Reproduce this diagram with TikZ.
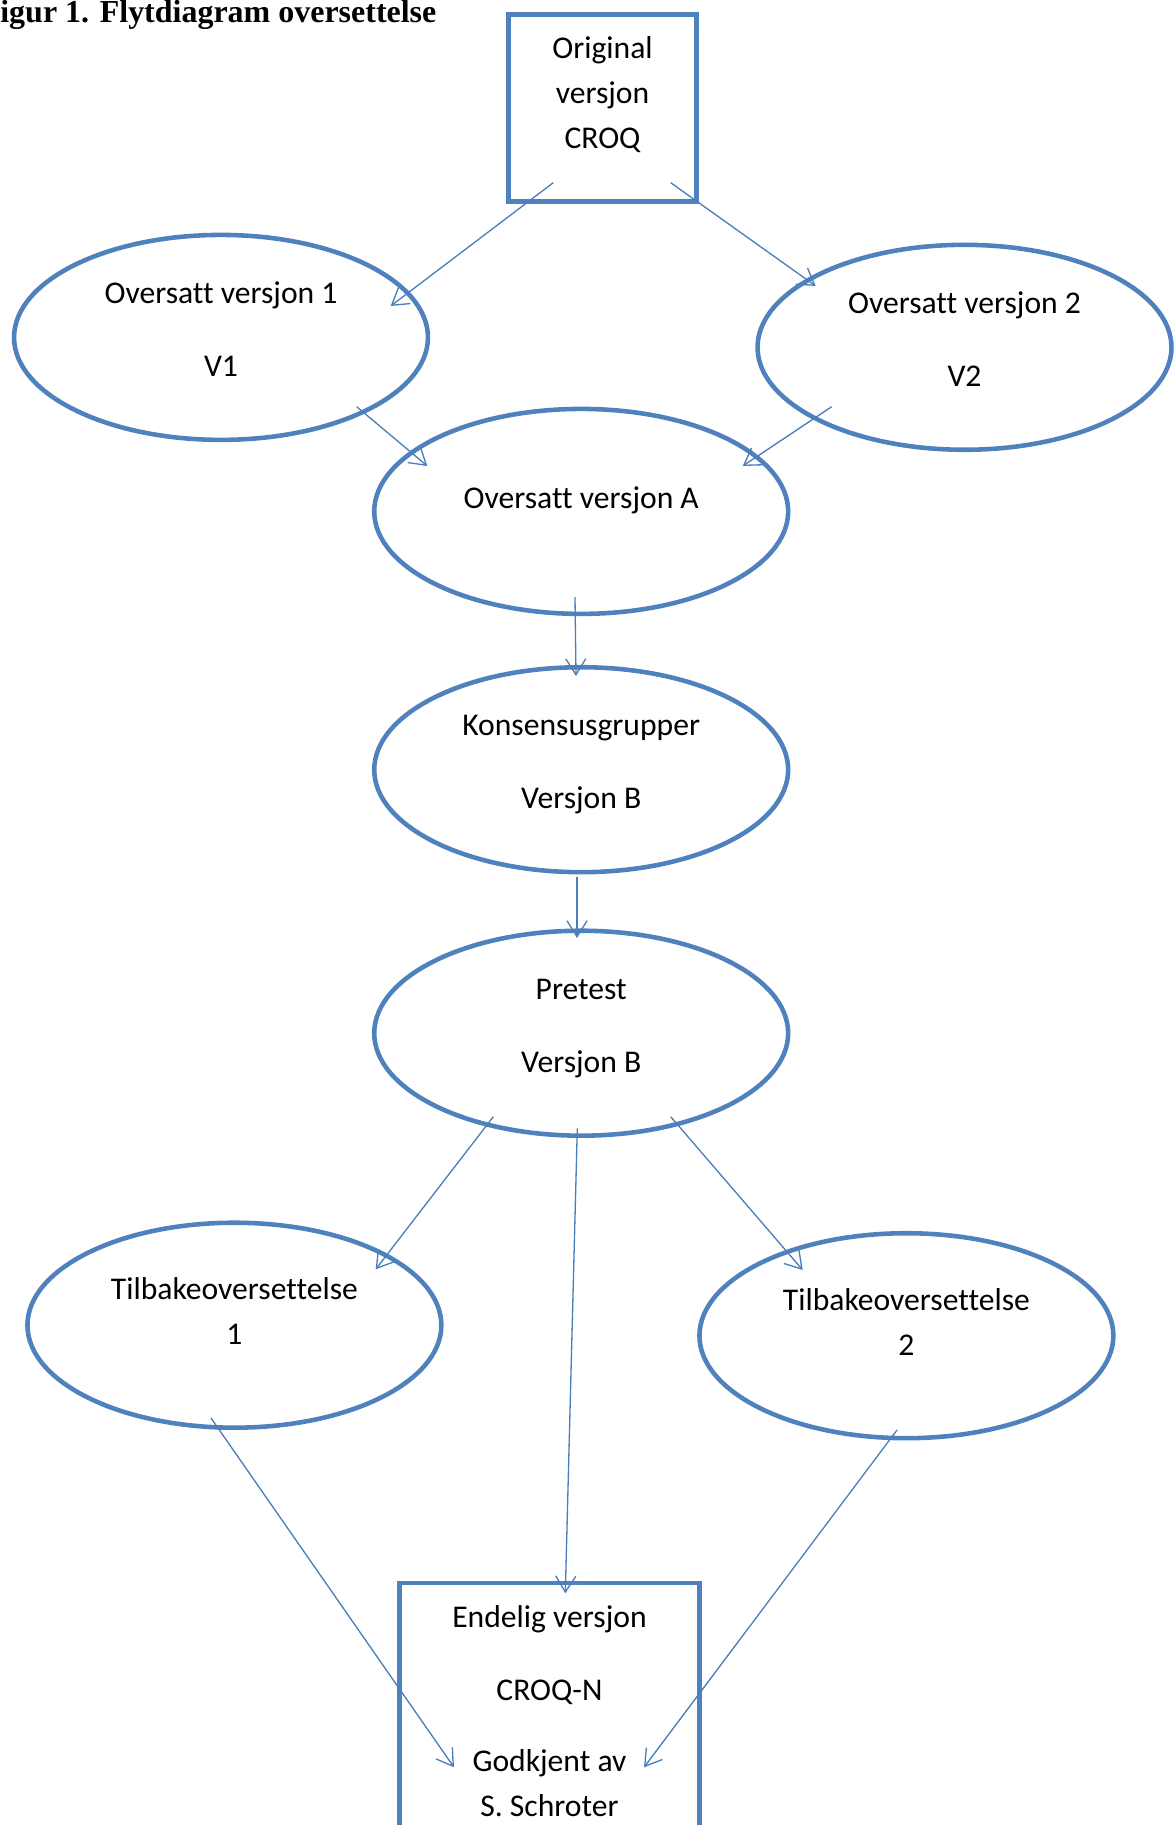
\documentclass[tikz,border=0pt]{standalone}
\usepackage{fontspec}
\setmainfont[Ligatures=NoCommon]{Carlito}
\newfontfamily\titlefont{Liberation Serif}
\usetikzlibrary{arrows.meta,shapes.geometric}
\definecolor{figLine}{HTML}{4F81BD}
\definecolor{figArrow}{HTML}{4A7EBB}
\tikzset{
  boxnode/.style={draw=figLine, line width=2.6pt, rectangle, inner sep=0pt},
  ovalnode/.style={draw=figLine, line width=2.6pt, ellipse, inner sep=0pt,
                   minimum width=8.28cm, minimum height=4.1cm},
  lbl/.style={align=center, inner sep=0pt},
  flow/.style={draw=figArrow, line width=0.75pt,
               -{Straight Barb[length=0.32cm, width=0.4cm, line width=0.75pt]}},
}
\begin{document}
\begin{tikzpicture}[x=0.02cm, y=-0.02cm,
    every node/.append style={font=\fontsize{18}{25.6}\selectfont}]
  \useasboundingbox (0,0) rectangle (1174,1825);
  % title
  \node[anchor=base west, inner sep=0pt, font=\fontsize{18.2}{22}\titlefont\bfseries]
    (title) at (0,22.7) {igur 1. Flytdiagram oversettelse};
  % boxes and ovals
  \node[boxnode, minimum width=3.77cm, minimum height=3.75cm,
        label={[lbl, yshift=0.27cm]center:{Original\\versjon\\CROQ}}] (orig) at (602.5,108) {};
  \node[ovalnode, label={[lbl, yshift=0.16cm]center:{Oversatt versjon 1\\[15.8pt]V1}}]
    (v1) at (221,337.4) {};
  \node[ovalnode, label={[lbl, yshift=0.16cm]center:{Oversatt versjon 2\\[15.8pt]V2}}]
    (v2) at (964.5,347.3) {};
  \node[ovalnode, label={[lbl, yshift=0.23cm]center:{Oversatt versjon A}}]
    (va) at (581.2,511.4) {};
  \node[ovalnode, label={[lbl, yshift=0.1cm]center:{Konsensusgrupper\\[15.8pt]Versjon B}}]
    (vb) at (581.2,769.7) {};
  \node[ovalnode, label={[lbl, yshift=0.09cm]center:{Pretest\\[15.8pt]Versjon B}}]
    (pre) at (581.2,1033.2) {};
  \node[ovalnode, label={[lbl, yshift=0.28cm]center:{Tilbakeoversettelse\\1}}]
    (t1) at (234.4,1325.2) {};
  \node[ovalnode, label={[lbl, yshift=0.28cm]center:{Tilbakeoversettelse\\2}}]
    (t2) at (906.4,1335.7) {};
  \node[boxnode, minimum width=6cm, minimum height=6cm,
        label={[lbl, yshift=0.44cm]center:{Endelig versjon\\[15.8pt]CROQ-N\\[14.6pt]Godkjent av\\S. Schroter}}]
    (fin) at (549.5,1733) {};
  % arrows
  \draw[flow] ([shift={(-49.2,74.7)}]orig.center) -- ([shift={(169.7,-31.4)}]v1.center);
  \draw[flow] ([shift={(68.2,74.7)}]orig.center) -- ([shift={(-148.8,-61.3)}]v2.center);
  \draw[flow] ([shift={(135.7,69.3)}]v1.center) -- ([shift={(-153.9,-45.4)}]va.center);
  \draw[flow] ([shift={(-132.8,59.4)}]v2.center) -- ([shift={(161.5,-45.4)}]va.center);
  \draw[flow] ([shift={(-6.2,85.6)}]va.center) -- ([shift={(-5.2,-93.7)}]vb.center);
  \draw[flow] ([shift={(-4.2,107.3)}]vb.center) -- ([shift={(-4.2,-95.2)}]pre.center);
  \draw[flow] ([shift={(-87.9,83.5)}]pre.center) -- ([shift={(141.3,-55.9)}]t1.center);
  \draw[flow] ([shift={(89.5,83.5)}]pre.center) -- ([shift={(-103.7,-65.7)}]t2.center);
  \draw[flow] ([shift={(-3.9,95.1)}]pre.center) -- ([shift={(15.8,-139.7)}]fin.center);
  \draw[flow] ([shift={(-23.4,92.8)}]t1.center) -- ([shift={(-95.5,34.3)}]fin.center);
  \draw[flow] ([shift={(-9.4,94.3)}]t2.center) -- ([shift={(94.5,34.3)}]fin.center);
\end{tikzpicture}
\end{document}
